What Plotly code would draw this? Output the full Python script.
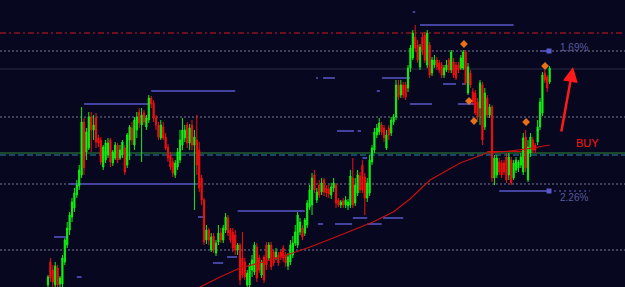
import plotly.graph_objects as go

# ---- candle data (price units, arbitrary scale) ----
opens = [2,25,17,2,19,3,3,25,42,57,
         70,79,92,101,112,165,135,139,170,157,
         169,149,147,120,127,132,147,124,129,142,
         129,132,139,122,147,159,142,157,175,162,
         174,160,167,189,184,169,162,149,160,150,
         140,132,125,112,120,127,142,149,162,144,
         162,142,147,137,109,87,47,57,37,51,
         34,45,54,47,57,69,57,55,52,37,
         42,29,25,2,2,17,15,40,29,12,
         30,42,29,42,35,30,32,35,39,32,
         21,25,32,44,42,55,59,54,62,80,
         82,112,87,102,95,107,99,98,92,99,
         102,87,82,86,82,81,82,109,84,94,
         111,122,110,89,94,125,137,152,155,162,
         159,139,159,154,165,170,202,192,202,202,
         199,219,229,250,242,220,250,252,222,242,
         214,222,227,224,222,212,217,227,217,225,
         222,222,219,219,235,194,214,195,194,185,
         179,202,160,189,172,180,109,112,125,124,
         124,130,112,127,109,117,119,122,115,150,
         107,134,147,142,145,160,174,214,210,205]
closes = [10,9,5,21,2,9,29,47,59,72,
          85,94,102,117,165,119,155,170,157,162,
          145,144,125,140,144,144,125,135,142,127,
          137,145,115,152,160,147,167,170,164,172,
          165,169,189,183,169,162,150,162,149,139,
          129,120,114,124,135,147,157,157,144,159,
          142,150,122,99,87,45,57,47,50,37,
          44,54,47,59,70,54,47,39,37,42,
          7,12,10,14,22,27,42,9,17,25,
          7,22,42,20,24,35,24,30,29,24,
          30,42,44,55,72,65,50,67,84,97,
          109,97,95,92,104,95,94,93,100,104,
          84,82,85,82,87,85,111,82,102,112,
          97,97,89,104,127,139,155,159,164,155,
          149,152,152,167,170,202,190,202,192,190,
          219,239,254,239,227,240,237,227,254,212,
          227,227,220,217,212,219,222,217,235,212,
          209,217,229,235,204,220,202,185,174,170,
          204,147,194,172,180,109,129,129,115,112,
          115,107,130,104,124,127,125,130,149,119,
          140,150,137,137,160,185,212,207,199,219]
highs = [12,29,22,25,22,11,32,49,65,75,
         89,99,107,122,180,169,159,175,175,172,
         174,152,150,142,147,149,149,137,145,144,
         142,147,142,154,162,165,170,175,179,179,
         177,172,192,191,187,172,165,167,165,154,
         143,135,129,127,139,157,169,162,165,163,
         167,157,172,145,112,89,62,59,54,54,
         47,62,59,62,74,72,59,59,57,44,
         44,55,29,17,24,32,45,44,32,27,
         32,45,45,45,37,39,35,37,42,35,
         34,47,51,62,75,69,62,69,87,102,
         114,117,99,107,109,109,102,102,104,109,
         104,89,87,89,91,88,117,129,109,117,
         115,127,114,109,132,142,159,163,169,165,
         162,157,162,170,173,207,207,207,205,205,
         222,242,257,262,247,243,254,255,257,245,
         230,232,230,227,225,222,227,229,237,229,
         225,225,232,237,237,224,217,199,197,189,
         207,205,199,192,183,182,132,132,129,127,
         127,134,134,130,127,130,127,134,154,157,
         147,154,150,144,167,189,215,217,212,221]
lows = [0,5,0,0,0,0,0,22,39,52,
        65,75,89,97,109,112,127,137,135,147,
        139,140,122,117,124,129,120,121,127,124,
        127,129,112,119,127,142,137,149,159,125,
        162,157,164,179,165,157,147,147,147,137,
        125,117,110,109,117,124,137,145,139,137,
        137,77,112,95,82,42,43,42,35,34,
        31,42,44,44,54,51,44,35,32,32,
        2,9,7,0,0,10,12,5,14,9,
        4,17,27,17,21,27,21,27,25,20,
        17,22,29,41,39,52,47,51,59,77,
        72,94,84,89,92,91,90,89,88,95,
        79,80,79,79,79,77,79,79,81,91,
        94,94,72,85,91,122,134,149,152,152,
        145,137,147,151,162,167,187,189,189,187,
        195,215,227,235,224,217,232,224,219,209,
        211,219,217,214,209,209,215,214,214,209,
        207,214,217,217,202,192,199,182,172,167,
        162,142,157,169,169,105,102,109,112,109,
        112,104,107,102,107,114,115,119,112,115,
        105,130,134,134,142,157,171,204,195,203]
bar_index = list(range(len(opens)))

# moving average (vertices)
ma_x = [63.3, 71.7, 80, 91.3, 102, 109.2, 118.8, 127, 135.4, 143.8, 150.8, 159.2, 171.7, 182.9, 192.5, 202, 209]
ma_v = [0, 10, 19, 26, 34, 40, 49, 57, 65, 75, 88, 107, 124, 134, 136, 139, 142]

# horizontal reference levels
level_redline = 254
levels_dotted = [236, 170, 103, 37]
level_dark = 218
level_green = 134
level_teal = 132
level_red_seg = (183, 200, 135.5)

# short support/resistance segments: start, end, value
seg_start = [15, 43, 111.7, 114.6, 139.2, 137, 120.4, 129, 155, 152, 164.6, 172.5, 150.8, 170.8,
             205, 9, 2.5, 12, 62.5, 79, 127, 139.6, 112.5, 119.6, 133, 131, 74.6, 68.75, 188, 203.5]
seg_end = [42, 78, 112.5, 119.6, 150.8, 138.3, 127.5, 130.4, 194, 153, 170, 173.8, 160, 177.5,
           208.75, 62, 8, 14, 65.4, 107, 133, 148, 114.6, 126.7, 139, 133, 78.75, 73, 208.75, 204.7]
seg_value = [183, 196, 209, 209, 209, 196, 156, 156, 262, 275, 203, 203, 183, 183,
             236, 103, 50, 10, 70, 76, 69, 69, 63, 63, 63, 129, 30, 24, 96, 157]

# signal dots
signal_x = [173.3, 207.1, 175.4, 177.5, 199.2]
signal_v = [243, 221, 186, 166, 165]

# target points and labels
target_x = [208.75, 208.75]
target_v = [236, 96]
target_labels = ["1.69%", "2.26%"]
target_label_v = [240, 90]

BG = "#07071f"
fig = go.Figure()

shapes = []
shapes.append(dict(type="line", xref="paper", x0=0, x1=1, y0=level_redline, y1=level_redline,
                   line=dict(color="#d01c1c", width=1, dash="6px,3px,2px,3px"), layer="below"))
for v in levels_dotted:
    shapes.append(dict(type="line", xref="paper", x0=0, x1=1, y0=v, y1=v,
                       line=dict(color="#7c7c98", width=1, dash="2px,2px"), layer="below"))
shapes.append(dict(type="line", xref="paper", x0=0, x1=1, y0=level_dark, y1=level_dark,
                   line=dict(color="#2c2c46", width=1), layer="below"))
shapes.append(dict(type="line", xref="paper", x0=0, x1=1, y0=level_teal, y1=level_teal,
                   line=dict(color="#1a4666", width=2, dash="6px,3px"), layer="below"))
shapes.append(dict(type="line", xref="paper", x0=0, x1=1, y0=level_green, y1=level_green,
                   line=dict(color="#2f8a36", width=1), layer="below"))
for a, b, v in zip(seg_start, seg_end, seg_value):
    shapes.append(dict(type="line", x0=a, x1=b, y0=v, y1=v,
                       line=dict(color="#4444a0", width=2), layer="below"))
shapes.append(dict(type="line", x0=target_x[1], x1=target_x[1] + 17, y0=target_v[1], y1=target_v[1],
                   line=dict(color="#34347a", width=2, dash="2px,3px"), layer="below"))
shapes.append(dict(type="line", x0=level_red_seg[0], x1=level_red_seg[1], y0=level_red_seg[2], y1=level_red_seg[2],
                   line=dict(color="#c01010", width=1), layer="below"))

fig.add_trace(go.Candlestick(
    x=bar_index, open=opens, high=highs, low=lows, close=closes,
    increasing=dict(line=dict(color="#12f012", width=1), fillcolor="#12f012"),
    decreasing=dict(line=dict(color="#f01010", width=1), fillcolor="#f01010"),
    whiskerwidth=0, hoverinfo="skip", showlegend=False))

fig.add_trace(go.Scatter(x=ma_x, y=ma_v, mode="lines",
                         line=dict(color="#c81010", width=1.2), hoverinfo="skip", showlegend=False))

fig.add_trace(go.Scatter(x=signal_x, y=signal_v, mode="markers",
                         marker=dict(symbol="diamond", size=6, color="#e8701a"),
                         hoverinfo="skip", showlegend=False))
fig.add_trace(go.Scatter(x=target_x, y=target_v, mode="markers",
                         marker=dict(symbol="square", size=5, color="#5a5ac8"),
                         hoverinfo="skip", showlegend=False))

annotations = []
for lab, v in zip(target_labels, target_label_v):
    annotations.append(dict(x=212.3, y=v, text=lab, showarrow=False, xanchor="left", yanchor="middle",
                            font=dict(family="Liberation Sans", size=10, color="#5a5a9c")))
annotations.append(dict(x=224.6, y=144, text="BUY", showarrow=False, xanchor="center", yanchor="middle",
                        font=dict(family="Liberation Sans", size=11, color="#ff1616")))
annotations.append(dict(x=218.75, y=220, ax=213.75, ay=154, axref="x", ayref="y", text="",
                        showarrow=True, arrowhead=2, arrowsize=1.2, arrowwidth=2.5, arrowcolor="#ff1a1a"))

fig.update_layout(
    width=625, height=287, margin=dict(l=0, r=0, t=0, b=0),
    paper_bgcolor=BG, plot_bgcolor=BG,
    shapes=shapes, annotations=annotations,
    xaxis=dict(range=[-20, 240.4], visible=False, rangeslider=dict(visible=False)),
    yaxis=dict(range=[0, 287], visible=False),
)
fig.write_html("out.html")
